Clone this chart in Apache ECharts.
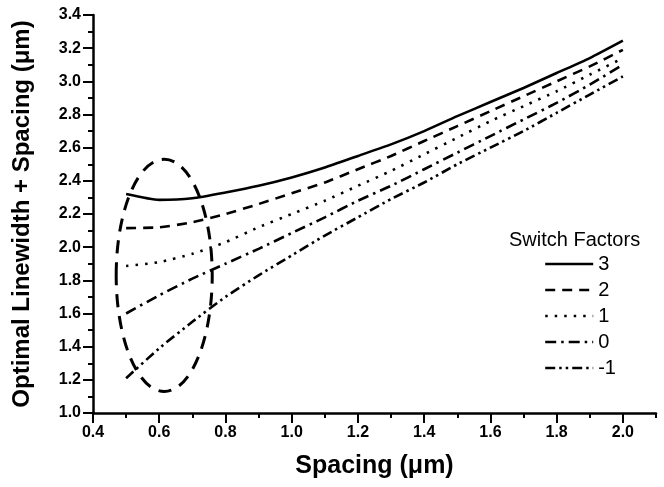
<!DOCTYPE html>
<html>
<head>
<meta charset="utf-8">
<script src="https://cdn.jsdelivr.net/npm/echarts@6/dist/echarts.min.js"></script>
<style>
  html, body { margin: 0; padding: 0; background: #fff; }
  #chart { width: 664px; height: 487px; }
</style>
</head>
<body>
<div id="chart"></div>
<script>
// spacing values (x, um)
const spacing = [0.5, 0.6, 0.7, 0.8, 0.9, 1.0, 1.1, 1.2, 1.3, 1.4, 1.5, 1.6, 1.7, 1.8, 1.9, 2.0];

// optimal linewidth + spacing for each switch factor
const sf3  = [2.32, 2.285, 2.295, 2.33, 2.37, 2.42, 2.48, 2.55, 2.62, 2.70, 2.79, 2.875, 2.96, 3.05, 3.14, 3.245];
const sf2  = [2.115, 2.12, 2.15, 2.20, 2.26, 2.325, 2.39, 2.47, 2.55, 2.64, 2.73, 2.82, 2.91, 3.00, 3.09, 3.19];
const sf1  = [1.886, 1.91, 1.96, 2.03, 2.12, 2.20, 2.28, 2.37, 2.46, 2.56, 2.66, 2.76, 2.85, 2.94, 3.04, 3.14];
const sf0  = [1.60, 1.71, 1.81, 1.90, 1.99, 2.085, 2.18, 2.28, 2.37, 2.47, 2.57, 2.67, 2.77, 2.87, 2.98, 3.10];
const sfm1 = [1.21, 1.39, 1.55, 1.70, 1.83, 1.95, 2.07, 2.18, 2.29, 2.39, 2.50, 2.60, 2.70, 2.81, 2.92, 3.03];

const factorNames = ['3', '2', '1', '0', '-1'];

// major tick labels on x
const xMajor = [0.4, 0.6, 0.8, 1.0, 1.2, 1.4, 1.6, 1.8, 2.0];

// highlighted region (ellipse): centre x, centre y, radius x, radius y
const ellipse = [0.615, 1.83, 0.145, 0.70];

const FONT = 'Liberation Sans, Arial, sans-serif';

const chart = echarts.init(document.getElementById('chart'));

// dash patterns per series
const dashes = {
  '3': 'solid',
  '2': [10, 7],
  '1': [2.5, 7],
  '0': [11, 5, 2.5, 5],
  '-1': [10, 4, 2.5, 4, 2.5, 4]
};

function lineSeries (name, vals) {
  return {
    name: name,
    type: 'line',
    symbol: 'none',
    smooth: 0.2,
    data: spacing.map((x, i) => [x, vals[i]]),
    lineStyle: { color: '#000', width: 2.6, type: dashes[name] },
    itemStyle: { color: '#000' },
    z: 3
  };
}

const option = {
  animation: false,
  backgroundColor: '#fff',
  grid: { left: 93, right: 8, top: 15, bottom: 74 },
  title: {
    text: 'Switch Factors',
    left: 504,
    top: 225,
    textStyle: { fontFamily: FONT, fontSize: 20, fontWeight: 'normal', color: '#000' }
  },
  legend: {
    data: factorNames,
    orient: 'vertical',
    left: 539,
    top: 249,
    itemWidth: 48,
    itemHeight: 20,
    itemGap: 6,
    textStyle: { fontFamily: FONT, fontSize: 20, color: '#000' },
    itemStyle: { opacity: 0 },
    lineStyle: { width: 2.4 }
  },
  xAxis: [{
    type: 'value',
    min: 0.4,
    max: 2.1,
    interval: 0.1,
    name: 'Spacing (μm)',
    nameLocation: 'middle',
    nameGap: 41,
    nameTextStyle: { fontFamily: FONT, fontSize: 25, fontWeight: 'bold', color: '#000' },
    axisLine: { show: true, lineStyle: { color: '#000', width: 2.5 } },
    axisTick: { show: true, inside: false, length: 10, lineStyle: { color: '#000', width: 2 }, customValues: xMajor },
    axisLabel: { customValues: xMajor, margin: 12, color: '#000', fontFamily: FONT, fontSize: 16, fontWeight: 'bold',
      formatter: v => v.toFixed(1) },
    splitLine: { show: false }
  }, {
    type: 'value',
    position: 'bottom',
    min: 0.4,
    max: 2.1,
    interval: 0.1,
    axisLine: { show: false },
    axisTick: { show: true, inside: false, length: 5, lineStyle: { color: '#000', width: 2 } },
    axisLabel: { show: false },
    splitLine: { show: false }
  }],
  yAxis: {
    type: 'value',
    min: 1.0,
    max: 3.4,
    interval: 0.2,
    name: 'Optimal Linewidth + Spacing (μm)',
    nameLocation: 'middle',
    nameGap: 59,
    nameTextStyle: { fontFamily: FONT, fontSize: 24, fontWeight: 'bold', color: '#000' },
    axisLine: { show: true, lineStyle: { color: '#000', width: 2.5 } },
    axisTick: { show: true, inside: false, length: 10, lineStyle: { color: '#000', width: 2 } },
    minorTick: { show: true, splitNumber: 2, length: 5, lineStyle: { color: '#000', width: 2 } },
    axisLabel: { margin: 12, color: '#000', fontFamily: FONT, fontSize: 16, fontWeight: 'bold',
      formatter: v => v.toFixed(1) },
    splitLine: { show: false }
  },
  series: [
    lineSeries('3', sf3),
    lineSeries('2', sf2),
    lineSeries('1', sf1),
    lineSeries('0', sf0),
    lineSeries('-1', sfm1),
    {
      name: 'region',
      type: 'custom',
      data: [ellipse],
      encode: { x: 0, y: 1 },
      z: 4,
      renderItem: function (params, api) {
        const c = api.coord([api.value(0), api.value(1)]);
        const s = api.size([api.value(2), api.value(3)]);
        return {
          type: 'ellipse',
          shape: { cx: c[0], cy: c[1], rx: s[0], ry: s[1] },
          style: { fill: 'none', stroke: '#000', lineWidth: 3, lineDash: [13, 9] }
        };
      }
    }
  ]
};

chart.setOption(option);
</script>
</body>
</html>
